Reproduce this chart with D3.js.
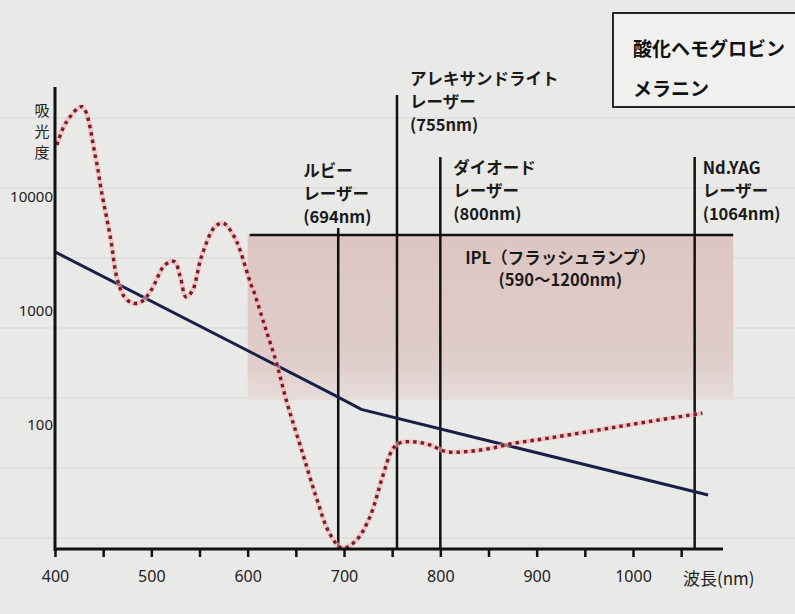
<!DOCTYPE html>
<html><head><meta charset="utf-8">
<script src="https://cdn.jsdelivr.net/npm/d3@7"></script>
<style>
html,body{margin:0;padding:0;background:#e9e9e7;}
svg{display:block;}
</style>
</head><body>
<svg id="chart" width="795" height="614"></svg>
<script>
// ---------------- data ----------------
const xTicks = [400,450,500,550,600,650,700,750,800,850,900,950,1000,1050];
const xTickLabels = ["400","500","600","700","800","900","1000"];
const yTickValues = [100,1000,10000];
const yTickLabels = ["100","1000","10000"];
const seriesNames = ["酸化ヘモグロビン","メラニン"];
const hbWavelength = [402,411,428,442,448,458,464,472,481,490,500,514,524,530,536,543,552,566,575,586,592,603,607,618,630,641,656,671,685,698,713,727,740,750,757,771,789,806,827,852,876,911,964,1016,1072];
const hbAbsorbance = [28600,44300,61900,22600,11500,4200,2000,1330,1170,1210,1530,2530,2710,2000,1330,1530,2990,5490,5880,4490,3430,1750,1430,728,348,155,60.4,23.5,11.2,8.3,9.8,15.7,35.2,60.4,69,71.4,66.8,58.4,58.4,62.4,69,76.4,90.4,107,127];
const melWavelength = [400,690,718,1078];
const melAbsorbance = [3300,183,137,24.3];
const laserNames = ["ルビー","アレキサンドライト","ダイオード","Nd.YAG"];
const laserSub = ["レーザー","レーザー","レーザー","レーザー"];
const laserNm = ["(694nm)","(755nm)","(800nm)","(1064nm)"];
const laserWavelengths = [694,755,800,1064];
const iplLabel = ["IPL（フラッシュランプ）","(590〜1200nm)"];
const iplRange = [600,1104];
const iplLevels = [165,4650];
const xAxisTitle = "波長(nm)";
const yAxisTitle = ["吸","光","度"];

// ---------------- scales ----------------
const svg = d3.select("#chart");
const x = d3.scaleLinear().domain([400,1000]).range([55,633]);
const y = d3.scaleLog().domain([100,10000]).range([425,197]);
const axisY = 549, axisTop = 87, axisRight = 723;
const jp = "'Noto Sans CJK JP','Noto Sans',sans-serif";
const num = "'Noto Sans','Open Sans',sans-serif";

// background & paper lines
svg.append("rect").attr("width",795).attr("height",614).attr("fill","#e9e9e7");
svg.append("g").selectAll("line").data(d3.range(7)).join("line")
  .attr("x1",0).attr("x2",795).attr("y1",i=>118+i*70).attr("y2",i=>118+i*70)
  .attr("stroke","#dddddb").attr("stroke-width",2).attr("opacity",0.7);

// IPL band
const defs = svg.append("defs");
const grad = defs.append("linearGradient").attr("id","ipl").attr("x1",0).attr("x2",0).attr("y1",0).attr("y2",1);
grad.append("stop").attr("offset","0%").attr("stop-color","#dcc6c3");
grad.append("stop").attr("offset","75%").attr("stop-color","#dfcdca");
grad.append("stop").attr("offset","100%").attr("stop-color","#e6dcda");
svg.append("rect")
  .attr("x",x(iplRange[0])).attr("y",y(iplLevels[1]))
  .attr("width",x(iplRange[1])-x(iplRange[0]))
  .attr("height",y(iplLevels[0])-y(iplLevels[1]))
  .attr("fill","url(#ipl)");
svg.append("line")
  .attr("x1",x(iplRange[0])+2).attr("x2",x(iplRange[1]))
  .attr("y1",y(iplLevels[1])).attr("y2",y(iplLevels[1]))
  .attr("stroke","#111").attr("stroke-width",2.5);
const iplCx = (x(iplRange[0])+x(iplRange[1]))/2 + 70;
svg.append("g").selectAll("text").data(iplLabel).join("text")
  .attr("x",iplCx).attr("y",(d,i)=>257+i*22)
  .attr("text-anchor","middle").attr("dominant-baseline","central")
  .attr("font-family",jp).attr("font-size",16.5).attr("font-weight",700).attr("fill","#1a1a1a")
  .text(d=>d);

// laser lines & labels
const layout = [
  {dx:-35, y0:170, top:228},
  {dx:13,  y0:78,  top:95},
  {dx:13,  y0:167, top:157},
  {dx:8,   y0:167, top:157}
];
laserWavelengths.forEach((w,i)=>{
  const lx = x(w);
  svg.append("line").attr("x1",lx).attr("x2",lx).attr("y1",layout[i].top).attr("y2",axisY)
    .attr("stroke","#111").attr("stroke-width",2.5);
  const lines = [laserNames[i],laserSub[i],laserNm[i]];
  svg.append("g").selectAll("text").data(lines).join("text")
    .attr("x",lx+layout[i].dx).attr("y",(d,j)=>layout[i].y0+j*23)
    .attr("dominant-baseline","central")
    .attr("font-family",jp).attr("font-size",16.5).attr("font-weight",700).attr("fill","#1a1a1a")
    .text(d=>d);
});

// melanin
const line = d3.line().x(d=>x(d[0])).y(d=>y(d[1]));
svg.append("path").datum(d3.zip(melWavelength,melAbsorbance))
  .attr("d",line).attr("fill","none").attr("stroke","#1a1f48").attr("stroke-width",3);

// oxyhemoglobin
const hb = d3.zip(hbWavelength,hbAbsorbance);
const curve = d3.line().x(d=>x(d[0])).y(d=>y(d[1])).curve(d3.curveCatmullRom.alpha(0.5));
svg.append("path").datum(hb).attr("d",curve).attr("fill","none")
  .attr("stroke","#f4b4b2").attr("stroke-width",5).attr("opacity",0.6);
svg.append("path").datum(hb).attr("d",curve).attr("fill","none")
  .attr("stroke","#7a1c2c").attr("stroke-width",3.4).attr("stroke-dasharray","3.5,4");

// axes
svg.append("line").attr("x1",x(400)).attr("x2",x(400)).attr("y1",axisTop).attr("y2",axisY+2)
  .attr("stroke","#111").attr("stroke-width",3);
svg.append("line").attr("x1",x(400)).attr("x2",axisRight).attr("y1",axisY).attr("y2",axisY)
  .attr("stroke","#111").attr("stroke-width",3);
const xa = svg.append("g").attr("transform",`translate(0,${axisY})`)
  .call(d3.axisBottom(x).tickValues(xTicks).tickSize(8).tickPadding(14)
    .tickFormat(d=>{const s=String(d); return xTickLabels.includes(s)?s:"";}));
xa.select(".domain").remove();
xa.selectAll(".tick line").attr("stroke","#111").attr("stroke-width",2.5);
xa.selectAll(".tick text").attr("font-family",num).attr("font-size",16).attr("fill","#222");

const ya = svg.append("g").attr("transform",`translate(${x(400)-2},0)`)
  .call(d3.axisLeft(y).tickValues(yTickValues).tickSize(0).tickPadding(0)
    .tickFormat((d,i)=>yTickLabels[i]));
ya.select(".domain").remove();
ya.selectAll(".tick text").attr("font-family",num).attr("font-size",15).attr("fill","#222");

svg.append("text").attr("x",axisRight-40).attr("y",577).attr("dominant-baseline","central")
  .attr("font-family",jp).attr("font-size",17).attr("fill","#222").text(xAxisTitle);
svg.append("g").selectAll("text").data(yAxisTitle).join("text")
  .attr("x",42).attr("y",(d,i)=>109+i*21).attr("text-anchor","middle").attr("dominant-baseline","central")
  .attr("font-family",jp).attr("font-size",15).attr("fill","#222").text(d=>d);

// legend
svg.append("rect").attr("x",613).attr("y",13).attr("width",200).attr("height",94)
  .attr("fill","#f0f0ee").attr("stroke","#111").attr("stroke-width",1.8);
svg.append("g").selectAll("text").data(seriesNames).join("text")
  .attr("x",633).attr("y",(d,i)=>47+i*40).attr("dominant-baseline","central")
  .attr("font-family",jp).attr("font-size",19).attr("font-weight",700).attr("fill","#111")
  .text(d=>d);
</script>
</body></html>
